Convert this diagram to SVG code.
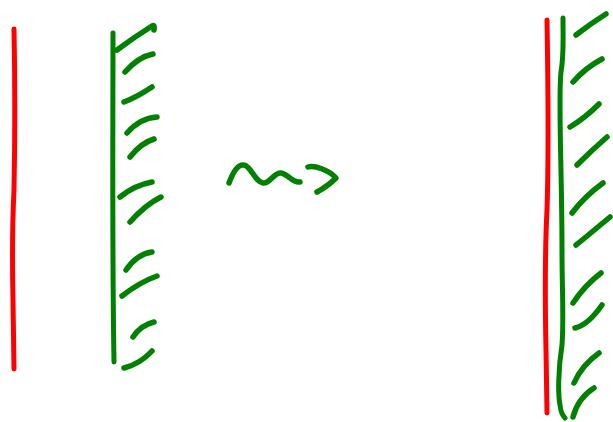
<svg xmlns="http://www.w3.org/2000/svg" width="613" height="422" viewBox="0 0 613 422">
<style>
.r{fill:none;stroke:#ff0000;stroke-width:5;stroke-linecap:round;stroke-linejoin:round}
.g{fill:none;stroke:#008000;stroke-width:5;stroke-linecap:round;stroke-linejoin:round}
.h{fill:none;stroke:#008000;stroke-width:5.5;stroke-linecap:round;stroke-linejoin:round}
</style>
<rect width="613" height="422" fill="#ffffff"/>
<g id="left-red">
<path class="r" d="M14,29 C15,80 15,140 14,190 C12,230 12,250 13,300 L14,369"/>
</g>
<g id="left-green">
<path class="g" d="M113,33 C113,120 112,240 114,362"/>
<path class="h" d="M117,50 Q133,38 152,26 Q155,24 154,30"/>
<path class="h" d="M125,72 Q138,57 153,54"/>
<path class="h" d="M124,102 Q137,97 152,87"/>
<path class="h" d="M127,133 Q140,118 157,117"/>
<path class="h" d="M130,157 Q141,143 154,139"/>
<path class="h" d="M120,197 Q135,185 152,182"/>
<path class="h" d="M130,222 Q145,205 161,197"/>
<path class="h" d="M126,270 Q137,254 152,252"/>
<path class="h" d="M122,296 Q140,282 157,276"/>
<path class="h" d="M133,337 Q141,325 154,322"/>
<path class="h" d="M124,368 Q140,364 152,351"/>
</g>
<g id="squiggle-arrow">
<path class="h" d="M229,183 C233,172 238,164 244,165 C251,166 255,182 263,183 C270,184 274,172 281,173 C288,174 292,183 300,182"/>
<path class="h" d="M308,167 C314,165 329,170 336,178 Q328,186 317,192"/>
</g>
<g id="right-red">
<path class="r" d="M547,20 C548,80 549,150 547,210 C545,250 545,300 546,350 L547,413"/>
</g>
<g id="right-green">
<path class="g" d="M563,18 C563,40 564,55 561,72 C558,100 562,170 562,250 C562,290 564,320 562,345 C558,370 558,395 560,405 Q561,414 565,418"/>
<path class="h" d="M576,35 Q590,24 606,14"/>
<path class="h" d="M573,82 Q585,68 602,59"/>
<path class="h" d="M570,127 Q585,118 599,104"/>
<path class="h" d="M577,165 Q592,150 607,137"/>
<path class="h" d="M572,213 Q585,196 603,183"/>
<path class="h" d="M576,245 Q580,242 610,217"/>
<path class="h" d="M573,303 Q585,285 601,273"/>
<path class="h" d="M575,328 Q588,325 602,305"/>
<path class="h" d="M574,383 Q582,365 599,353"/>
<path class="h" d="M573,417 Q578,398 594,388"/>
</g>
</svg>
